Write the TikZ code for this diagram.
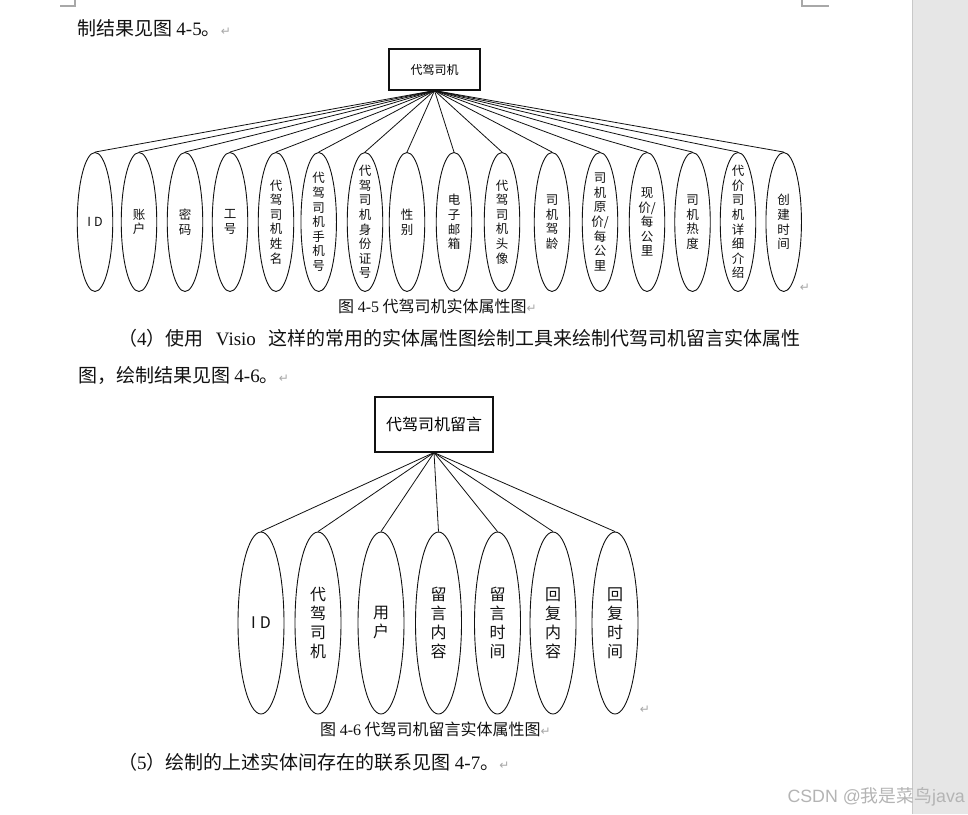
\documentclass[tikz,border=0pt]{standalone}
\usepackage{xcolor}
\usepackage{fontspec}
\setmainfont{Liberation Serif}
\newfontfamily\cjk{Noto Sans CJK SC}
\newfontfamily\symf{DejaVu Sans}
\newfontfamily\wmfont{Liberation Sans}
\usetikzlibrary{positioning,shapes.geometric}
\definecolor{ink}{HTML}{111111}
\definecolor{markgray}{HTML}{A8A8A8}
\definecolor{panel}{HTML}{E6E6E6}
\definecolor{panelline}{HTML}{C8C8C8}
\definecolor{wmgray}{HTML}{B4B4B4}
\newcommand{\lat}[1]{{\rmfamily #1}}
\newcommand{\ret}{{\symf\fontsize{12}{12}\selectfont\color{markgray}↵}}
\tikzset{
  entity/.style={draw=ink, line width=1.1pt, inner sep=0pt, fill=white},
  attr/.style={ellipse, draw=ink, line width=.9pt, inner sep=0pt},
  attrlabel/.style={inner sep=0pt, align=center, text=ink},
  link/.style={draw=ink, line width=.8pt},
  body/.style={anchor=west, inner sep=0pt, text=ink, font=\cjk\fontsize{19}{19}\selectfont},
  figcap/.style={anchor=west, inner sep=0pt, text=ink, font=\cjk\fontsize{16}{16}\selectfont}
}

\begin{document}
\begin{tikzpicture}[x=1pt,y=-1pt]
  \fill[white] (0,0) rectangle (968,814);
  \useasboundingbox (0,0) rectangle (968,814);

  % page frame
  \fill[panel] (912,0) rectangle (968,814);
  \draw[panelline,line width=1.5pt] (912.5,0) -- (912.5,814);
  \draw[markgray,line width=1.2pt] (60,6) -- (75,6) -- (75,0);
  \draw[markgray,line width=1.2pt] (802,0) -- (802,6) -- (829,6);

  % text lines
  \node[body] (l0) at (77,28) {制结果见图 \lat{4-5}。\ret};
  \node[figcap] (cap5) at (338,306) {图 \lat{4-5} 代驾司机实体属性图\ret};
  \node[body] (l1) at (118,338) {\makebox[682pt][s]{（\lat{4}）使用 \lat{Visio} 这样的常用的实体属性图绘制工具来绘制代驾司机留言实体属性}};
  \node[body] (l2) at (78,376) {图，绘制结果见图 \lat{4-6}。\ret};
  \node[figcap] (cap6) at (320,729) {图 \lat{4-6} 代驾司机留言实体属性图\ret};
  \node[body] (l3) at (118,762) {（\lat{5}）绘制的上述实体间存在的联系见图 \lat{4-7}。\ret};
  \node[inner sep=0pt] (r5) at (805,288) {\ret};
  \node[inner sep=0pt] (r6) at (645,710) {\ret};

  % driver entity
  \node[entity,minimum width=91pt,minimum height=41pt,
    font=\cjk\fontsize{12}{12}\selectfont] (drv) at (434.5,69.5) {代驾司机};
  \foreach \x/\t [count=\i] in {95/{I\hspace{3pt}D},139/{账\\户},185/{密\\码},230/{工\\号},
      276/{代\\驾\\司\\机\\姓\\名},318.7/{代\\驾\\司\\机\\手\\机\\号},
      365/{代\\驾\\司\\机\\身\\份\\证\\号},407/{性\\别},454/{电\\子\\邮\\箱},
      502/{代\\驾\\司\\机\\头\\像},552/{司\\机\\驾\\龄},600/{司\\机\\原\\价/\\每\\公\\里},
      647/{现\\价/\\每\\公\\里},692.5/{司\\机\\热\\度},
      738/{代\\价\\司\\机\\详\\细\\介\\绍},783.7/{创\\建\\时\\间}}{
    \node[attr,minimum width=35.5pt,minimum height=139pt] (a\i) at (\x,222) {};
    \node[attrlabel,font=\cjk\fontsize{12.5}{14.6}\selectfont] (t\i) at (a\i) {\t};
    \draw[link] (drv.south) -- (a\i.north);
  }

  % message entity
  \node[entity,minimum width=118pt,minimum height=55pt,
    font=\cjk\fontsize{16}{16}\selectfont] (msg) at (434,424.5) {代驾司机留言};
  \foreach \x/\t [count=\i] in {261/{I\hspace{4pt}D},318/{代\\驾\\司\\机},381/{用\\户},
      438.5/{留\\言\\内\\容},497.5/{留\\言\\时\\间},553/{回\\复\\内\\容},615/{回\\复\\时\\间}}{
    \node[attr,minimum width=46pt,minimum height=182pt] (b\i) at (\x,623) {};
    \node[attrlabel,font=\cjk\fontsize{16}{19}\selectfont] (u\i) at (b\i) {\t};
    \draw[link] (msg.south) -- (b\i.north);
  }

  % watermark
  \node[anchor=east,inner sep=0pt,text=wmgray,font=\wmfont\fontsize{17.8}{18}\selectfont]
    (wm) at (965,797) {CSDN @{\cjk 我是菜鸟}java};
\end{tikzpicture}
\end{document}
